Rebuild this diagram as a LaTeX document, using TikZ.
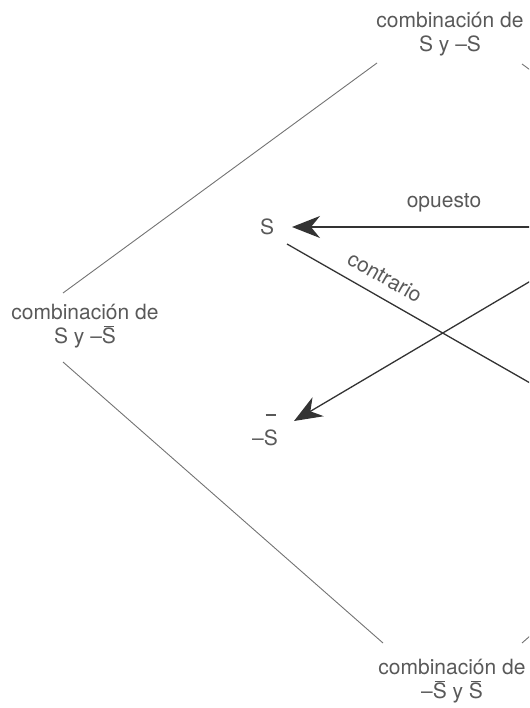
\documentclass[tikz,border=0pt]{standalone}
\usepackage{fontspec}
\setmainfont{TeX Gyre Heros}
\usetikzlibrary{arrows.meta}

% S with a bar raised by #1
\newcommand{\barS}[1]{\leavevmode\rlap{\raisebox{#1}{\hspace{0.09em}\rule{0.5em}{0.06em}}}S}

\begin{document}
\begin{tikzpicture}[x=1pt,y=-1pt,
  lbl/.style={text=black!65,inner sep=1pt,font=\fontsize{21}{24}\selectfont},
  sqline/.style={black!55,line width=0.9pt},
  relline/.style={black!80,line width=1.3pt},
  relarrow/.style={relline,-{Stealth[length=28pt,width=22pt,inset=9pt]}}]

\useasboundingbox (0,0) rectangle (529,708);
\clip (0,0) rectangle (529,708);

% corner labels
\node[lbl,align=center] (top) at (450,34) {combinación de\\S y –S};
\node[lbl,align=center] (left) at (85,326) {combinación de\\S y –\barS{0.78em}};
\node[lbl,align=center] (bottom) at (452,681) {combinación de\\–\barS{0.78em} y \barS{0.78em}};

% terms
\node[lbl,anchor=base] (s) at (267,235) {S};
\node[lbl,anchor=base] (nsbar) at (265,445) {–\barS{1.4em}};

% ends of the lines (right ones lie outside the frame)
\coordinate (tl-a) at (63,293);   \coordinate (tl-b) at (377,63);
\coordinate (bl-a) at (63,362);   \coordinate (bl-b) at (383,643);
\coordinate (tr-a) at (522,64);   \coordinate (tr-b) at (836,294);
\coordinate (br-a) at (522,643);  \coordinate (br-b) at (842,362);
\coordinate (s-tip) at (292,227); \coordinate (opp-end) at (620,227);
\coordinate (s-out) at (287,244); \coordinate (ctr-end) at (600,423);
\coordinate (ns-tip) at (294,421); \coordinate (sub-end) at (600,240);

% square
\draw[sqline] (tl-a) -- (tl-b);
\draw[sqline] (bl-a) -- (bl-b);
\draw[sqline] (tr-a) -- (tr-b);
\draw[sqline] (br-a) -- (br-b);

% relations
\draw[relarrow] (opp-end) -- (s-tip);
\draw[relline] (s-out) -- (ctr-end);
\draw[relarrow] (sub-end) -- (ns-tip);

\node[lbl,anchor=base] (opp-lbl) at (444,208) {opuesto};
\node[lbl,rotate=-29.8] (ctr-lbl) at (385,277) {contrario};
\end{tikzpicture}
\end{document}
